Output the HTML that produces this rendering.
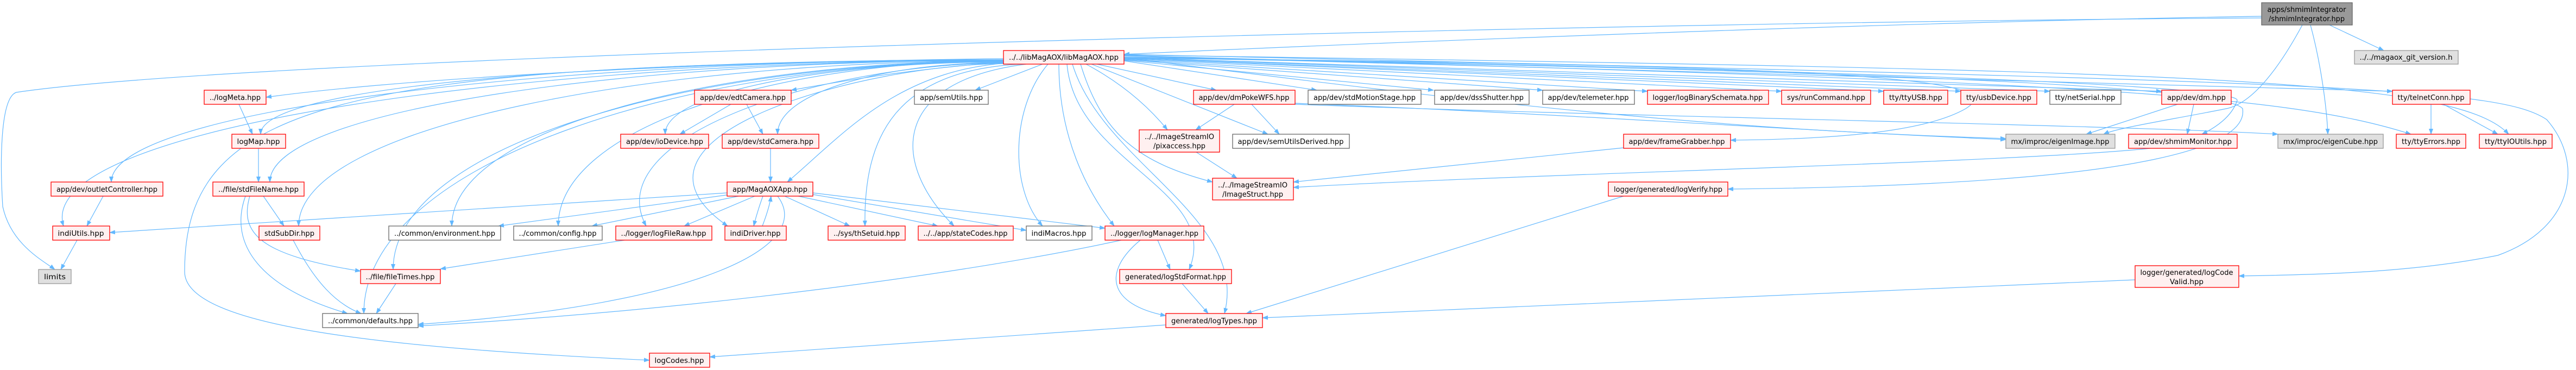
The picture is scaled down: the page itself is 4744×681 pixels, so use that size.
<!DOCTYPE html>
<html><head><meta charset="utf-8"><style>
html,body{margin:0;padding:0;background:#fff;}
svg{display:block;}
text{font-family:"DejaVu Sans","Liberation Sans",sans-serif;font-size:13px;fill:#000;}
.R{fill:#fff0f0;stroke:#ff0000;stroke-width:1.3}
.W{fill:#fff;stroke:#666;stroke-width:1.3}
.G{fill:#e0e0e0;stroke:#999;stroke-width:1.3}
.M{fill:#999;stroke:#666;stroke-width:1.3}
.e{fill:none;stroke:#63b8ff;stroke-width:1.2;marker-end:url(#a)}
</style></head><body>
<svg width="4744" height="681" viewBox="0 0 4744 681" xmlns="http://www.w3.org/2000/svg">
<defs><marker id="a" markerWidth="11" markerHeight="8" refX="10" refY="4" orient="auto" markerUnits="userSpaceOnUse"><path d="M0,0 L11,4 L0,8 z" fill="#63b8ff"/></marker></defs>
<g>
<path class="e" d="M1850,108 C1200,115 700,150 490,179"/>
<path class="e" d="M1850,110 C1165,110 480,154 480,247"/>
<path class="e" d="M1850,110 C1027,110 205,200 205,335"/>
<path class="e" d="M1850,111 C1173,111 497,200 497,335"/>
<path class="e" d="M1850,111 C983,111 60,232 117,416"/>
<path class="e" d="M1850,112 C1200,112 550,232 550,416"/>
<path class="e" d="M1850,112 C1341,112 832,232 832,416"/>
<path class="e" d="M1850,112 C1439,112 1028,232 1028,416"/>
<path class="e" d="M1850,113 C1287,113 724,264 724,496"/>
<path class="e" d="M1850,113 C1260,113 670,300 670,577"/>
<path class="e" d="M1850,112 C600,112 340,200 340,500 C340,600 700,640 1196,663"/>
<path class="e" d="M1850,114 C1650,130 1550,150 1457,166"/>
<path class="e" d="M1850,114 C1537,114 1225,167 1225,247"/>
<path class="e" d="M1850,115 C1641,115 1432,167 1432,247"/>
<path class="e" d="M1855,116 C1650,130 1550,250 1450,335"/>
<path class="e" d="M1855,116 C1520,116 1100,250 1190,416"/>
<path class="e" d="M1855,117 C1595,117 1100,250 1340,416"/>
<path class="e" d="M1880,118 C1650,130 1590,250 1593,416"/>
<path class="e" d="M1890,118 C1640,150 1640,300 1757,416"/>
<path class="e" d="M1930,118 C1860,200 1860,350 1920,416"/>
<path class="e" d="M1920,118 L1796,166"/>
<path class="e" d="M1950,118 C1950,250 2000,350 2052,416"/>
<path class="e" d="M1965,118 C1980,300 2250,350 2190,496"/>
<path class="e" d="M1975,118 C2030,300 2300,400 2255,577"/>
<path class="e" d="M2000,118 C2060,150 2110,190 2150,239"/>
<path class="e" d="M1990,118 C2030,250 2100,300 2233,335"/>
<path class="e" d="M2010,118 L2335,247"/>
<path class="e" d="M2020,118 L2240,166"/>
<path class="e" d="M2070,112 L2425,166"/>
<path class="e" d="M2070,111 L2640,166"/>
<path class="e" d="M2070,110 L2841,166"/>
<path class="e" d="M2070,109 L3034,168"/>
<path class="e" d="M2070,108 L3281,168"/>
<path class="e" d="M2070,107 L3469,168"/>
<path class="e" d="M2070,107 L3611,168"/>
<path class="e" d="M2070,106 L3775,168"/>
<path class="e" d="M2070,106 L3981,168"/>
<path class="e" d="M2070,107 C3500,120 3700,150 3620,200 C3550,240 3400,256 3187,258"/>
<path class="e" d="M2070,106 C2800,200 3200,240 3694,255"/>
<path class="e" d="M2070,105 C3000,120 4130,150 4120,185 C4110,215 4080,235 4055,247"/>
<path class="e" d="M2070,103 C3500,140 4000,160 4406,168"/>
<path class="e" d="M2070,102 C3800,150 4200,170 4440,247"/>
<path class="e" d="M2070,101 C4000,130 4520,140 4620,247"/>
<path class="e" d="M2070,100 C4300,150 4600,160 4690,220 C4760,300 4740,420 4600,470 C4450,500 4300,505 4123,508"/>
<path class="e" d="M2070,106 C3500,130 4100,160 4130,200 C4140,260 4000,340 3182,348"/>
<path class="e" d="M4165,30 C3500,40 2500,80 2070,100"/>
<path class="e" d="M4165,33 C3000,40 500,100 30,170 C0,180 0,300 5,380 C20,450 80,480 101,496"/>
<path class="e" d="M4290,46 L4390,93"/>
<path class="e" d="M4255,46 C4275,120 4285,200 4287,247"/>
<path class="e" d="M4240,46 C4200,120 4150,190 4100,200 C4000,220 3900,235 3874,247"/>
<path class="e" d="M1346,192 L1252,247"/>
<path class="e" d="M1375,192 L1405,247"/>
<path class="e" d="M1419,273 L1419,335"/>
<path class="e" d="M1339,355 L202,428"/>
<path class="e" d="M1360,361 L1090,416"/>
<path class="e" d="M1345,358 L918,416"/>
<path class="e" d="M1150,442 L811,495"/>
<path class="e" d="M1390,361 L1260,416"/>
<path class="e" d="M1405,361 C1398,380 1392,400 1388,416"/>
<path class="e" d="M1404,416 C1412,395 1418,375 1420,361"/>
<path class="e" d="M1445,361 L1565,416"/>
<path class="e" d="M1470,361 L1727,416"/>
<path class="e" d="M1497,358 L1890,424"/>
<path class="e" d="M1497,355 L2035,420"/>
<path class="e" d="M1432,361 C1500,450 1300,560 770,597"/>
<path class="e" d="M2065,442 C1800,500 1300,570 770,600"/>
<path class="e" d="M2132,442 L2155,496"/>
<path class="e" d="M2100,442 C2030,500 2040,560 2147,581"/>
<path class="e" d="M2177,522 L2225,577"/>
<path class="e" d="M2147,598 L1307,657"/>
<path class="e" d="M2990,361 L2295,577"/>
<path class="e" d="M3932,515 L2325,585"/>
<path class="e" d="M440,192 L465,247"/>
<path class="e" d="M476,273 L476,335"/>
<path class="e" d="M485,361 L523,416"/>
<path class="e" d="M460,361 C440,430 480,470 664,499"/>
<path class="e" d="M452,361 C420,450 480,530 640,577"/>
<path class="e" d="M540,442 C580,520 620,560 665,577"/>
<path class="e" d="M729,522 L693,577"/>
<path class="e" d="M190,361 L160,416"/>
<path class="e" d="M142,442 L112,496"/>
<path class="e" d="M2273,192 L2202,239"/>
<path class="e" d="M2305,192 L2356,247"/>
<path class="e" d="M2385,190 C2900,210 3300,240 3694,257"/>
<path class="e" d="M2385,192 C3000,215 3900,230 4195,247"/>
<path class="e" d="M2203,280 L2278,328"/>
<path class="e" d="M2990,272 L2382,335"/>
<path class="e" d="M3960,273 C3700,300 2800,320 2382,345"/>
<path class="e" d="M4010,192 L3842,247"/>
<path class="e" d="M4040,192 L4028,247"/>
<path class="e" d="M4477,192 L4477,247"/>
<path class="e" d="M4500,192 L4600,247"/>
</g>
<g>
<rect class="M" x="4165" y="5" width="167" height="41"/><text x="4248" y="22" text-anchor="middle" textLength="145" lengthAdjust="spacingAndGlyphs">apps/shmimIntegrator</text><text x="4248" y="39" text-anchor="middle" textLength="140" lengthAdjust="spacingAndGlyphs">/shmimIntegrator.hpp</text>
<rect class="R" x="1848" y="93" width="222" height="25"/><text x="1959" y="110" text-anchor="middle" textLength="202" lengthAdjust="spacingAndGlyphs">../../libMagAOX/libMagAOX.hpp</text>
<rect class="G" x="4336" y="93" width="191" height="25"/><text x="4431" y="110" text-anchor="middle" textLength="171" lengthAdjust="spacingAndGlyphs">../../magaox_git_version.h</text>
<rect class="R" x="376" y="166" width="114" height="26"/><text x="433" y="184" text-anchor="middle" textLength="94" lengthAdjust="spacingAndGlyphs">../logMeta.hpp</text>
<rect class="R" x="1279" y="166" width="178" height="26"/><text x="1368" y="184" text-anchor="middle" textLength="158" lengthAdjust="spacingAndGlyphs">app/dev/edtCamera.hpp</text>
<rect class="W" x="1684" y="166" width="136" height="26"/><text x="1752" y="184" text-anchor="middle" textLength="116" lengthAdjust="spacingAndGlyphs">app/semUtils.hpp</text>
<rect class="R" x="2198" y="166" width="187" height="26"/><text x="2291" y="184" text-anchor="middle" textLength="167" lengthAdjust="spacingAndGlyphs">app/dev/dmPokeWFS.hpp</text>
<rect class="W" x="2409" y="166" width="208" height="26"/><text x="2513" y="184" text-anchor="middle" textLength="188" lengthAdjust="spacingAndGlyphs">app/dev/stdMotionStage.hpp</text>
<rect class="W" x="2642" y="166" width="174" height="26"/><text x="2729" y="184" text-anchor="middle" textLength="154" lengthAdjust="spacingAndGlyphs">app/dev/dssShutter.hpp</text>
<rect class="W" x="2841" y="166" width="169" height="26"/><text x="2925" y="184" text-anchor="middle" textLength="149" lengthAdjust="spacingAndGlyphs">app/dev/telemeter.hpp</text>
<rect class="R" x="3034" y="166" width="223" height="26"/><text x="3145" y="184" text-anchor="middle" textLength="203" lengthAdjust="spacingAndGlyphs">logger/logBinarySchemata.hpp</text>
<rect class="R" x="3281" y="166" width="164" height="26"/><text x="3363" y="184" text-anchor="middle" textLength="144" lengthAdjust="spacingAndGlyphs">sys/runCommand.hpp</text>
<rect class="R" x="3469" y="166" width="118" height="26"/><text x="3528" y="184" text-anchor="middle" textLength="98" lengthAdjust="spacingAndGlyphs">tty/ttyUSB.hpp</text>
<rect class="R" x="3611" y="166" width="140" height="26"/><text x="3681" y="184" text-anchor="middle" textLength="120" lengthAdjust="spacingAndGlyphs">tty/usbDevice.hpp</text>
<rect class="W" x="3775" y="166" width="131" height="26"/><text x="3840" y="184" text-anchor="middle" textLength="111" lengthAdjust="spacingAndGlyphs">tty/netSerial.hpp</text>
<rect class="R" x="3981" y="166" width="128" height="26"/><text x="4045" y="184" text-anchor="middle" textLength="108" lengthAdjust="spacingAndGlyphs">app/dev/dm.hpp</text>
<rect class="R" x="4406" y="166" width="143" height="26"/><text x="4477" y="184" text-anchor="middle" textLength="123" lengthAdjust="spacingAndGlyphs">tty/telnetConn.hpp</text>
<rect class="R" x="427" y="247" width="99" height="26"/><text x="476" y="265" text-anchor="middle" textLength="79" lengthAdjust="spacingAndGlyphs">logMap.hpp</text>
<rect class="R" x="1143" y="247" width="162" height="26"/><text x="1224" y="265" text-anchor="middle" textLength="142" lengthAdjust="spacingAndGlyphs">app/dev/ioDevice.hpp</text>
<rect class="R" x="1330" y="247" width="178" height="26"/><text x="1419" y="265" text-anchor="middle" textLength="158" lengthAdjust="spacingAndGlyphs">app/dev/stdCamera.hpp</text>
<rect class="R" x="2098" y="239" width="148" height="41"/><text x="2172" y="256" text-anchor="middle" textLength="128" lengthAdjust="spacingAndGlyphs">../../ImageStreamIO</text><text x="2172" y="273" text-anchor="middle" textLength="96" lengthAdjust="spacingAndGlyphs">/pixaccess.hpp</text>
<rect class="W" x="2270" y="247" width="215" height="26"/><text x="2377" y="265" text-anchor="middle" textLength="195" lengthAdjust="spacingAndGlyphs">app/dev/semUtilsDerived.hpp</text>
<rect class="R" x="2990" y="247" width="197" height="26"/><text x="3088" y="265" text-anchor="middle" textLength="177" lengthAdjust="spacingAndGlyphs">app/dev/frameGrabber.hpp</text>
<rect class="G" x="3694" y="247" width="201" height="26"/><text x="3794" y="265" text-anchor="middle" textLength="181" lengthAdjust="spacingAndGlyphs">mx/improc/eigenImage.hpp</text>
<rect class="R" x="3920" y="247" width="200" height="26"/><text x="4020" y="265" text-anchor="middle" textLength="180" lengthAdjust="spacingAndGlyphs">app/dev/shmimMonitor.hpp</text>
<rect class="G" x="4195" y="247" width="194" height="26"/><text x="4292" y="265" text-anchor="middle" textLength="174" lengthAdjust="spacingAndGlyphs">mx/improc/eigenCube.hpp</text>
<rect class="R" x="4413" y="247" width="128" height="26"/><text x="4477" y="265" text-anchor="middle" textLength="108" lengthAdjust="spacingAndGlyphs">tty/ttyErrors.hpp</text>
<rect class="R" x="4566" y="247" width="134" height="26"/><text x="4633" y="265" text-anchor="middle" textLength="114" lengthAdjust="spacingAndGlyphs">tty/ttyIOUtils.hpp</text>
<rect class="R" x="94" y="335" width="206" height="26"/><text x="197" y="353" text-anchor="middle" textLength="186" lengthAdjust="spacingAndGlyphs">app/dev/outletController.hpp</text>
<rect class="R" x="392" y="335" width="168" height="26"/><text x="476" y="353" text-anchor="middle" textLength="148" lengthAdjust="spacingAndGlyphs">../file/stdFileName.hpp</text>
<rect class="R" x="1339" y="335" width="158" height="26"/><text x="1418" y="353" text-anchor="middle" textLength="138" lengthAdjust="spacingAndGlyphs">app/MagAOXApp.hpp</text>
<rect class="R" x="2233" y="328" width="149" height="40"/><text x="2307" y="345" text-anchor="middle" textLength="128" lengthAdjust="spacingAndGlyphs">../../ImageStreamIO</text><text x="2307" y="362" text-anchor="middle" textLength="112" lengthAdjust="spacingAndGlyphs">/ImageStruct.hpp</text>
<rect class="R" x="2962" y="335" width="220" height="26"/><text x="3072" y="353" text-anchor="middle" textLength="200" lengthAdjust="spacingAndGlyphs">logger/generated/logVerify.hpp</text>
<rect class="R" x="97" y="416" width="105" height="26"/><text x="149" y="434" text-anchor="middle" textLength="85" lengthAdjust="spacingAndGlyphs">indiUtils.hpp</text>
<rect class="R" x="477" y="416" width="112" height="26"/><text x="533" y="434" text-anchor="middle" textLength="92" lengthAdjust="spacingAndGlyphs">stdSubDir.hpp</text>
<rect class="W" x="716" y="416" width="206" height="26"/><text x="819" y="434" text-anchor="middle" textLength="186" lengthAdjust="spacingAndGlyphs">../common/environment.hpp</text>
<rect class="W" x="946" y="416" width="163" height="26"/><text x="1027" y="434" text-anchor="middle" textLength="143" lengthAdjust="spacingAndGlyphs">../common/config.hpp</text>
<rect class="R" x="1134" y="416" width="177" height="26"/><text x="1222" y="434" text-anchor="middle" textLength="157" lengthAdjust="spacingAndGlyphs">../logger/logFileRaw.hpp</text>
<rect class="R" x="1335" y="416" width="113" height="26"/><text x="1391" y="434" text-anchor="middle" textLength="93" lengthAdjust="spacingAndGlyphs">indiDriver.hpp</text>
<rect class="R" x="1525" y="416" width="142" height="26"/><text x="1596" y="434" text-anchor="middle" textLength="122" lengthAdjust="spacingAndGlyphs">../sys/thSetuid.hpp</text>
<rect class="R" x="1691" y="416" width="175" height="26"/><text x="1778" y="434" text-anchor="middle" textLength="155" lengthAdjust="spacingAndGlyphs">../../app/stateCodes.hpp</text>
<rect class="W" x="1890" y="416" width="121" height="26"/><text x="1950" y="434" text-anchor="middle" textLength="101" lengthAdjust="spacingAndGlyphs">indiMacros.hpp</text>
<rect class="R" x="2035" y="416" width="182" height="26"/><text x="2126" y="434" text-anchor="middle" textLength="162" lengthAdjust="spacingAndGlyphs">../logger/logManager.hpp</text>
<rect class="G" x="71" y="496" width="60" height="26"/><text x="101" y="514" text-anchor="middle" textLength="40" lengthAdjust="spacingAndGlyphs">limits</text>
<rect class="R" x="664" y="496" width="147" height="26"/><text x="737" y="514" text-anchor="middle" textLength="127" lengthAdjust="spacingAndGlyphs">../file/fileTimes.hpp</text>
<rect class="R" x="2062" y="496" width="206" height="26"/><text x="2165" y="514" text-anchor="middle" textLength="186" lengthAdjust="spacingAndGlyphs">generated/logStdFormat.hpp</text>
<rect class="R" x="3932" y="489" width="191" height="40"/><text x="4027" y="506" text-anchor="middle" textLength="171" lengthAdjust="spacingAndGlyphs">logger/generated/logCode</text><text x="4027" y="523" text-anchor="middle" textLength="62" lengthAdjust="spacingAndGlyphs">Valid.hpp</text>
<rect class="W" x="594" y="577" width="176" height="26"/><text x="682" y="595" text-anchor="middle" textLength="156" lengthAdjust="spacingAndGlyphs">../common/defaults.hpp</text>
<rect class="R" x="2147" y="577" width="178" height="26"/><text x="2236" y="595" text-anchor="middle" textLength="158" lengthAdjust="spacingAndGlyphs">generated/logTypes.hpp</text>
<rect class="R" x="1196" y="650" width="111" height="26"/><text x="1251" y="668" text-anchor="middle" textLength="91" lengthAdjust="spacingAndGlyphs">logCodes.hpp</text>
</g>
</svg>
</body></html>
